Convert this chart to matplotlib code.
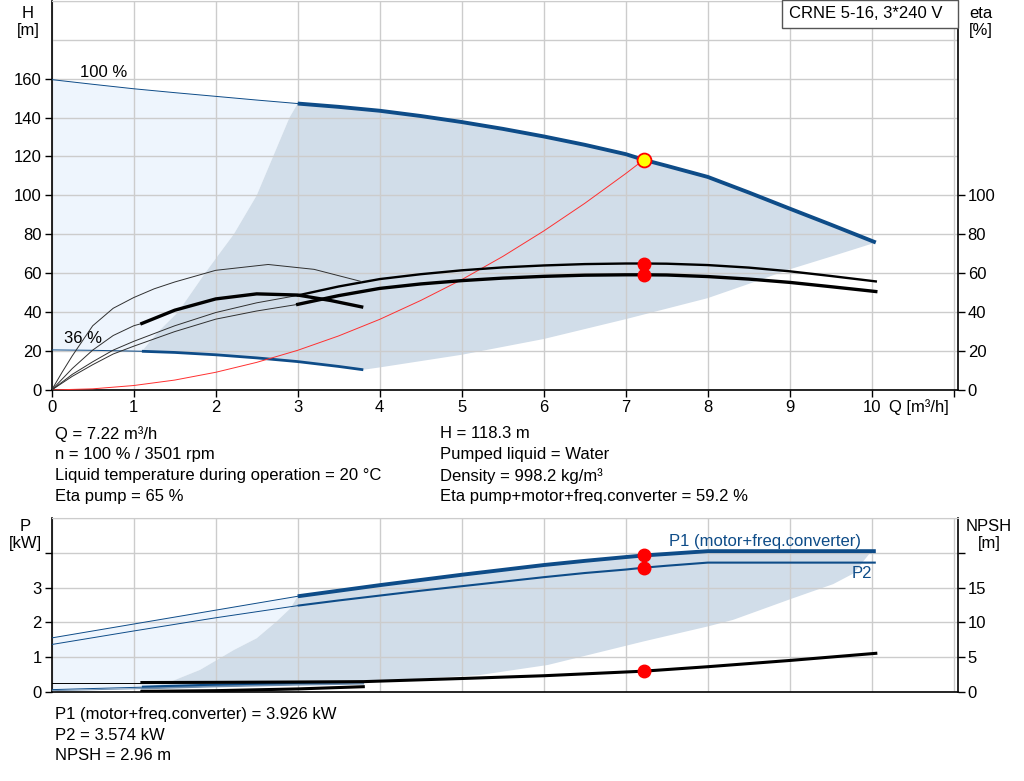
import matplotlib
matplotlib.use('Agg')
import matplotlib.pyplot as plt
from matplotlib.patches import Rectangle
import numpy as np

plt.rcParams['font.family'] = ['Liberation Sans', 'DejaVu Sans']
plt.rcParams['font.size'] = 12

# ---- pump curve data ----
# H at 100 % speed
q_h100 = [0, 0.5, 1, 1.5, 2, 2.5, 3, 3.5, 4, 4.5, 5, 5.5, 6, 6.5, 7, 7.22, 7.5, 8, 8.5, 9, 9.5, 10.05]
h_100 = [159.5, 157.1, 154.8, 152.8, 150.9, 149, 147.2, 145.5, 143.5, 140.8, 137.7, 134.2,
         130.3, 126, 121.2, 118.3, 115.2, 109.5, 101.5, 93.2, 85, 75.8]
# H at 36 % speed
q_h36 = [0, 0.5, 1.1, 1.5, 2, 2.5, 3, 3.5, 3.8]
h_36 = [20.6, 20.4, 19.9, 19.3, 18.1, 16.5, 14.6, 12.1, 10.4]
# eta at 100 % speed
q_eta100 = [0, 0.25, 0.5, 0.75, 1, 1.5, 2, 2.5, 3, 3.5, 4, 4.5, 5, 5.5, 6, 6.5, 7, 7.22,
            7.5, 8, 8.5, 9, 9.5, 10.05]
eta_pump100 = [0, 8, 14.5, 20.5, 25, 33, 39.8, 44.8, 48.6, 53.2, 57, 59.5, 61.5, 63, 64,
               64.7, 65, 65, 64.9, 64.2, 62.9, 61, 58.6, 55.8]
eta_tot100 = [0, 7, 13, 18.5, 22.5, 30, 36.4, 40.6, 44, 48.5, 52.2, 54.5, 56.2, 57.5, 58.4,
              59, 59.2, 59.2, 59.1, 58.3, 57, 55.3, 53.1, 50.6]
# eta at 36 % speed
q_etap36 = [0, 0.125, 0.25, 0.5, 0.75, 1, 1.25, 1.5, 2, 2.64, 3.2, 3.78]
eta_pump36 = [0, 9, 17.5, 33, 42, 47.5, 52, 55.5, 61.5, 64.5, 62, 55.7]
q_etat36 = [0, 0.25, 0.5, 0.75, 1, 1.1, 1.5, 2, 2.5, 3, 3.4, 3.78]
eta_tot36 = [0, 11, 20.5, 28, 33, 34.2, 41, 46.8, 49.4, 48.8, 46, 42.7]
# system curve
q_sys = [0, 0.5, 1, 1.5, 2, 2.5, 3, 3.5, 4, 4.5, 5, 5.5, 6, 6.5, 7, 7.22]
h_sys = [0, 0.6, 2.3, 5.1, 9.1, 14.2, 20.4, 27.8, 36.3, 46, 56.7, 68.6, 81.7, 95.9, 111.2, 118.3]
# operating range boundaries (H plot)
q_rng_left = [1.1, 1.3, 1.54, 1.87, 2.07, 2.22, 2.5, 2.7, 2.9, 3.0]
h_rng_left = [19.9, 30, 40, 60, 71.5, 80, 100, 120, 140, 147.2]
q_rng_low = [10.05, 9.5, 9, 8.5, 8, 7, 6, 5, 4, 3.8]
h_rng_low = [75.8, 68.5, 62, 54.5, 47.2, 36.4, 26.2, 18.1, 11.6, 10.4]

# power / NPSH
q_p100 = [0, 1, 2, 3, 3.5, 4, 4.5, 5, 5.5, 6, 6.5, 7, 7.22, 7.5, 8, 9, 10.05]
p1_100 = [1.55, 1.95, 2.35, 2.75, 2.91, 3.07, 3.22, 3.37, 3.51, 3.65, 3.77, 3.88, 3.926,
          3.97, 4.05, 4.05, 4.05]
p2_100 = [1.36, 1.75, 2.13, 2.48, 2.63, 2.77, 2.91, 3.04, 3.17, 3.3, 3.42, 3.52, 3.574,
          3.63, 3.72, 3.72, 3.72]
q_p36 = [0, 1.1, 2, 3, 3.8]
p1_36 = [0.06, 0.13, 0.19, 0.24, 0.27]
p2_36 = [0.03, 0.09, 0.15, 0.2, 0.23]
q_npsh100 = [0, 1.1, 2, 3, 3.8, 5, 6, 7.22, 8, 9, 10.05]
npsh_100 = [1.32, 1.32, 1.35, 1.4, 1.45, 1.9, 2.3, 2.96, 3.6, 4.5, 5.53]
q_npsh36 = [1.1, 2, 3, 3.8]
npsh_36 = [0.05, 0.15, 0.4, 0.72]
# operating range boundaries (P plot)
q_prng_left = [1.1, 1.4, 1.81, 2.22, 2.5, 2.74, 2.91, 3.0]
p_prng_left = [0.12, 0.24, 0.63, 1.2, 1.54, 2.02, 2.4, 2.75]
q_prng_low = [10.05, 9.98, 9.78, 9.53, 9.0, 8.31, 8.0, 7.22, 6.05, 5.22, 3.8]
p_prng_low = [4.05, 4.0, 3.41, 3.1, 2.66, 2.07, 1.88, 1.45, 0.77, 0.48, 0.27]

# duty point
q_duty = 7.22
h_duty = 118.3
eta_pump_duty = 65
eta_tot_duty = 59.2
p1_duty = 3.926
p2_duty = 3.574
npsh_duty = 2.96

# ---- styling ----
blue = '#0e4c88'
grid_c = '#cccccc'
light_fill = '#eef5fd'
dark_fill = '#d1dde9'
thick = 2.8
thin = 0.7
fs = 12

W, Hpx = 1024, 781
fig = plt.figure(figsize=(W / 100, Hpx / 100), dpi=100)

def fx(px):
    return px / W

def fy(py):
    return 1 - py / Hpx

x0, x1 = 51.7, 958
xmax = (x1 - x0) / 82.0

def seg(q, v, a, b):
    q = np.asarray(q, float); v = np.asarray(v, float)
    m = (q >= a - 1e-9) & (q <= b + 1e-9)
    return q[m], v[m]

def style_axes(ax):
    ax.set_axisbelow('line')
    ax.grid(True, color=grid_c, lw=1.0)
    for s in ['left', 'bottom', 'right']:
        ax.spines[s].set_color('black')
        ax.spines[s].set_linewidth(1.2)
    ax.spines['top'].set_color(grid_c)
    ax.tick_params(direction='out', length=5, width=1, labelsize=fs, pad=2)

# ================= top: H / eta =================
ax = fig.add_axes([fx(x0), fy(390), fx(x1 - x0), (390 - 0.8) / Hpx])
ax.set_xlim(0, xmax)
ax.set_ylim(0, 200)
ax.set_xticks(range(0, 12))
ax.set_xticklabels([str(i) for i in range(0, 11)] + [''])
ax.set_yticks(range(0, 161, 20))
ax.set_yticks([180, 200], minor=True)
ax.tick_params(axis='y', which='minor', length=0)
ax.grid(True, which='minor', axis='y', color=grid_c, lw=1.0)
style_axes(ax)

# light region (low flow)
qa, ha = seg(q_h100, h_100, 0, 3)
qb, hb = seg(q_h36, h_36, 0, 1.1)
poly_q = list(qa) + q_rng_left[::-1] + list(qb[::-1])
poly_h = list(ha) + h_rng_left[::-1] + list(hb[::-1])
ax.fill(poly_q, poly_h, color=light_fill, lw=0, zorder=1)
# dark region (operating range)
qc, hc = seg(q_h100, h_100, 3, 10.05)
qd, hd = seg(q_h36, h_36, 1.1, 3.8)
poly_q = list(qc) + q_rng_low + list(qd[::-1]) + q_rng_left
poly_h = list(hc) + h_rng_low + list(hd[::-1]) + h_rng_left
ax.fill(poly_q, poly_h, color=dark_fill, lw=0, zorder=1)

# H curves
q, v = seg(q_h100, h_100, 0, 3); ax.plot(q, v, color=blue, lw=thin, zorder=3)
q, v = seg(q_h100, h_100, 3, 10.05); ax.plot(q, v, color=blue, lw=thick, zorder=3, solid_capstyle='butt')
q, v = seg(q_h36, h_36, 0, 1.1); ax.plot(q, v, color=blue, lw=thin, zorder=3)
q, v = seg(q_h36, h_36, 1.1, 3.8); ax.plot(q, v, color=blue, lw=2.0, zorder=3, solid_capstyle='butt')
ax.plot(q_sys, h_sys, color='#ff3030', lw=0.7, zorder=3)

ax.text(0.35, 159.5, '100 %', ha='left', va='bottom', fontsize=fs)
ax.text(0.15, 22.5, '36 %', ha='left', va='bottom', fontsize=fs)

# eta on right axis
ax2 = ax.twinx()
ax2.set_ylim(0, 200)
ax2.set_yticks(range(0, 101, 20))
ax2.tick_params(direction='out', length=5, width=1, labelsize=fs, pad=2)
for s in ax2.spines.values():
    s.set_visible(False)
q, v = seg(q_eta100, eta_pump100, 0, 3); ax2.plot(q, v, color='#303030', lw=thin)
q, v = seg(q_eta100, eta_pump100, 3, 10.05); ax2.plot(q, v, color='black', lw=1.7)
q, v = seg(q_eta100, eta_tot100, 0, 3); ax2.plot(q, v, color='#303030', lw=thin)
q, v = seg(q_eta100, eta_tot100, 3, 10.05); ax2.plot(q, v, color='black', lw=2.4)
ax2.plot(q_etap36, eta_pump36, color='#303030', lw=thin)
q, v = seg(q_etat36, eta_tot36, 0, 1.1); ax2.plot(q, v, color='#303030', lw=thin)
q, v = seg(q_etat36, eta_tot36, 1.1, 3.78); ax2.plot(q, v, color='black', lw=2.4)
ax2.plot([q_duty, q_duty], [eta_pump_duty, eta_tot_duty], 'o', ls='none',
         color='red', ms=9, zorder=5)
ax2.plot([q_duty], [h_duty], 'o', ms=10, mfc='#ffff00', mec='red', mew=1.3, zorder=6)

# ================= bottom: P / NPSH =================
bx = fig.add_axes([fx(x0), fy(691.7), fx(x1 - x0), (691.7 - 518.2) / Hpx])
bx.set_xlim(0, xmax)
bx.set_ylim(0, 5)
bx.set_xticks(range(0, 12))
bx.set_yticks(range(0, 5))
bx.set_yticklabels(['0', '1', '2', '3', ''])
bx.set_yticks([5], minor=True)
bx.tick_params(axis='y', which='minor', length=0)
bx.grid(True, which='minor', axis='y', color=grid_c, lw=1.0)
style_axes(bx)
bx.tick_params(axis='x', length=0, labelbottom=False)

qa, pa = seg(q_p100, p1_100, 0, 3)
qb, pb = seg(q_p36, p2_36, 0, 1.1)
poly_q = list(qa) + q_prng_left[::-1] + list(qb[::-1])
poly_p = list(pa) + p_prng_left[::-1] + list(pb[::-1])
bx.fill(poly_q, poly_p, color=light_fill, lw=0, zorder=1)
qc, pc = seg(q_p100, p1_100, 3, 10.05)
qd, pd = seg(q_p36, p1_36, 1.1, 3.8)
poly_q = list(qc) + q_prng_low + list(qd[::-1]) + q_prng_left
poly_p = list(pc) + p_prng_low + list(pd[::-1]) + p_prng_left
bx.fill(poly_q, poly_p, color=dark_fill, lw=0, zorder=1)

q, v = seg(q_p100, p1_100, 0, 3); bx.plot(q, v, color=blue, lw=thin, zorder=3)
q, v = seg(q_p100, p1_100, 3, 10.05); bx.plot(q, v, color=blue, lw=thick, zorder=3, solid_capstyle='butt')
q, v = seg(q_p100, p2_100, 0, 3); bx.plot(q, v, color=blue, lw=thin, zorder=3)
q, v = seg(q_p100, p2_100, 3, 10.05); bx.plot(q, v, color=blue, lw=1.5, zorder=3, solid_capstyle='butt')
q, v = seg(q_p36, p1_36, 0, 1.1); bx.plot(q, v, color=blue, lw=thin, zorder=3)
q, v = seg(q_p36, p1_36, 1.1, 3.8); bx.plot(q, v, color=blue, lw=2.2, zorder=3, solid_capstyle='butt')
q, v = seg(q_p36, p2_36, 0, 1.1); bx.plot(q, v, color='#6f8fb0', lw=thin, zorder=3)
q, v = seg(q_p36, p2_36, 1.1, 3.8); bx.plot(q, v, color='#6f8fb0', lw=1.2, zorder=3)

bx.text(7.53, 4.12, 'P1 (motor+freq.converter)', color=blue, ha='left', va='bottom', fontsize=fs)
bx.text(9.75, 3.62, 'P2', color=blue, ha='left', va='top', fontsize=fs)

bx2 = bx.twinx()
bx2.set_ylim(0, 25)
bx2.set_yticks(range(0, 21, 5))
bx2.set_yticklabels(['0', '5', '10', '15', ''])
bx2.tick_params(direction='out', length=5, width=1, labelsize=fs, pad=2)
for s in bx2.spines.values():
    s.set_visible(False)
q, v = seg(q_npsh100, npsh_100, 0, 1.1); bx2.plot(q, v, color='black', lw=thin)
q, v = seg(q_npsh100, npsh_100, 1.1, 10.05); bx2.plot(q, v, color='black', lw=2.2)
bx2.plot(q_npsh36, npsh_36, color='black', lw=2.2)
bx2.plot([q_duty], [npsh_duty], 'o', color='red', ms=9, zorder=5)
bx.plot([q_duty, q_duty], [p1_duty, p2_duty], 'o', ls='none', color='red', ms=9, zorder=5)

# ---- axis titles and info text ----
fig.text(fx(28), fy(6), 'H\n[m]', ha='center', va='top', fontsize=fs, linespacing=1.2)
fig.text(fx(981), fy(6), 'eta\n[%]', ha='center', va='top', fontsize=fs, linespacing=1.2)
fig.text(fx(889), fy(407), 'Q [m³/h]', ha='left', va='center', fontsize=fs)
fig.text(fx(25), fy(519), 'P\n[kW]', ha='center', va='top', fontsize=fs, linespacing=1.2)
fig.text(fx(989), fy(519), 'NPSH\n[m]', ha='center', va='top', fontsize=fs, linespacing=1.2)

fig.patches.append(Rectangle((fx(782), fy(28)), fx(958 - 782), 28 / Hpx, transform=fig.transFigure,
                             facecolor='white', edgecolor='#555555', lw=1, zorder=10))
fig.text(fx(789), fy(14), 'CRNE 5-16, 3*240 V', ha='left', va='center', fontsize=fs, zorder=11)

left_info = ['Q = 7.22 m³/h', 'n = 100 % / 3501 rpm',
             'Liquid temperature during operation = 20 °C', 'Eta pump = 65 %']
right_info = ['H = 118.3 m', 'Pumped liquid = Water', 'Density = 998.2 kg/m³',
              'Eta pump+motor+freq.converter = 59.2 %']
bottom_info = ['P1 (motor+freq.converter) = 3.926 kW', 'P2 = 3.574 kW', 'NPSH = 2.96 m']
for i, s in enumerate(left_info):
    fig.text(fx(55), fy(434 + 21 * i), s, ha='left', va='center', fontsize=fs)
for i, s in enumerate(right_info):
    fig.text(fx(440), fy(434 + 21 * i), s, ha='left', va='center', fontsize=fs)
for i, s in enumerate(bottom_info):
    fig.text(fx(55), fy(714 + 21 * i), s, ha='left', va='center', fontsize=fs)

fig.savefig('out.png', dpi=100)
